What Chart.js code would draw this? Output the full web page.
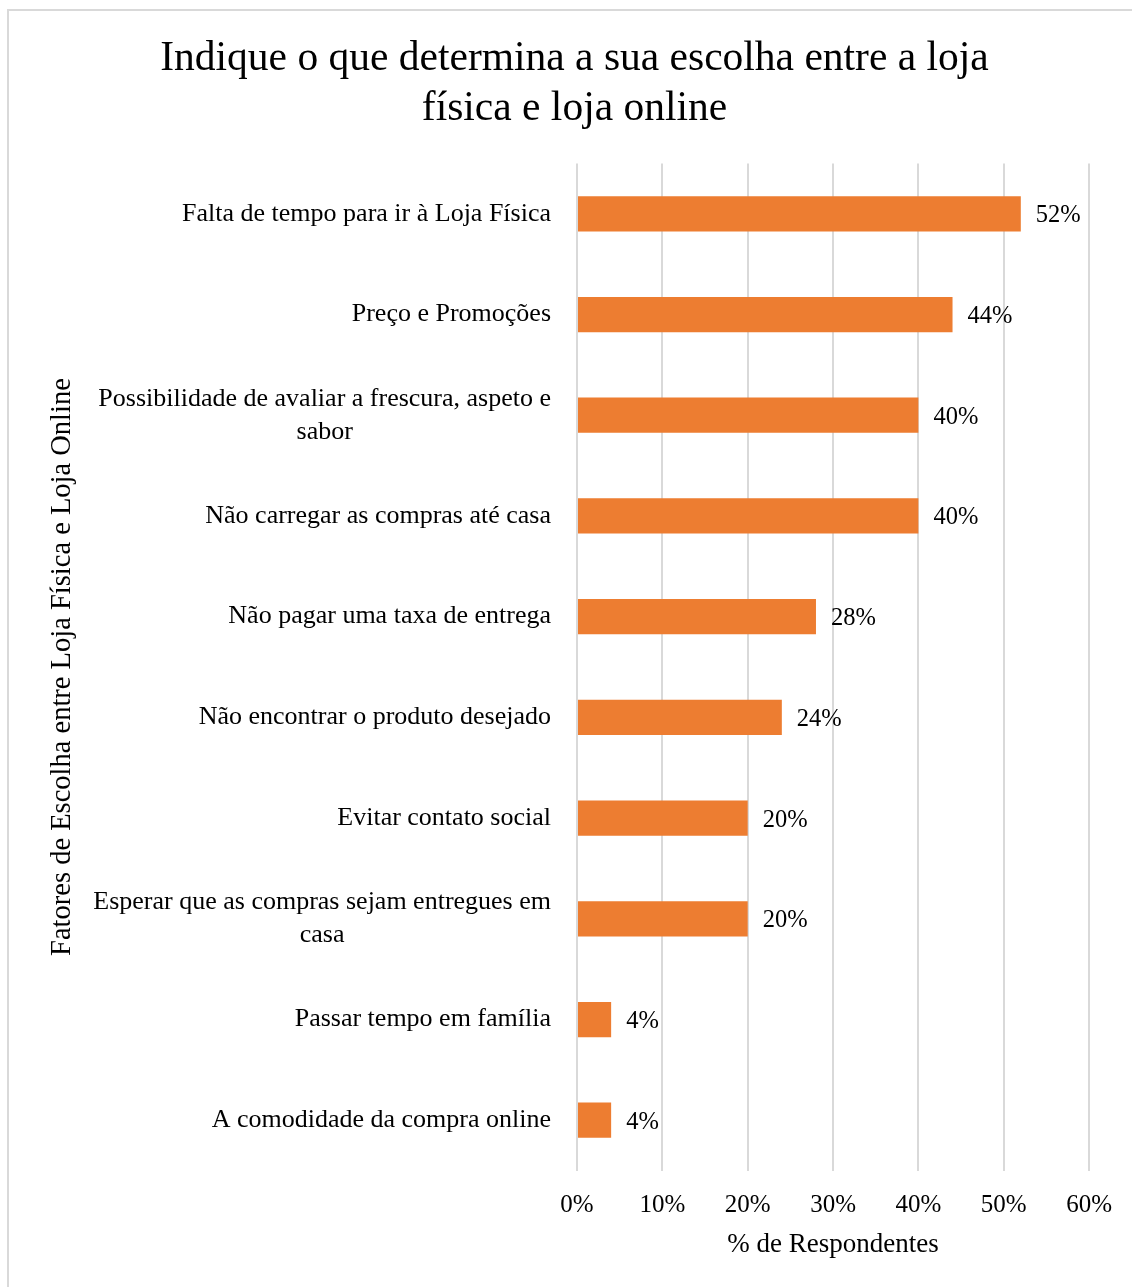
<!DOCTYPE html>
<html>
<head>
<meta charset="utf-8">
<title>Escolha entre loja física e loja online</title>
<script src="https://cdn.jsdelivr.net/npm/chart.js@4/dist/chart.umd.min.js"></script>
<style>
body{
    margin:0;
    background:#ffffff;
    overflow:hidden;
}
#frame{
    position:absolute;
    left:7px;
    top:9px;
    width:1300px;
    height:1400px;
    border:2px solid #d9d9d9;
}
#wrap{
    position:absolute;
    left:0;
    top:0;
    width:1132px;
    height:1287px;
}
</style>
</head>
<body>

<div id="frame"></div>

<div id="wrap">
<canvas id="choiceChart"></canvas>
</div>

<script>

let factors = [
    ["Falta de tempo para ir à Loja Física"],
    ["Preço e Promoções"],
    ["Possibilidade de avaliar a frescura, aspeto e", "sabor"],
    ["Não carregar as compras até casa"],
    ["Não pagar uma taxa de entrega"],
    ["Não encontrar o produto desejado"],
    ["Evitar contato social"],
    ["Esperar que as compras sejam entregues em", "casa"],
    ["Passar tempo em família"],
    ["A comodidade da compra online"]
];

let respondents = [52, 44, 40, 40, 28, 24, 20, 20, 4, 4];

let xTicks = [0, 10, 20, 30, 40, 50, 60];

let chartTitle = [
    "Indique o que determina a sua escolha entre a loja",
    "física e loja online"
];

let xTitle = "% de Respondentes";

let yTitle = "Fatores de Escolha entre Loja Física e Loja Online";

let serif = "'Liberation Serif', 'DejaVu Serif', serif";

// category labels, right block with centered lines (like the original)
const factorLabels = {
    id: "factorLabels",
    afterDraw(chart){
        let ctx = chart.ctx;
        let yScale = chart.scales.y;
        let rightEdge = chart.chartArea.left - 26;
        let lineGap = 33;

        ctx.save();
        ctx.font = "26px " + serif;
        ctx.fillStyle = "#000000";
        ctx.textBaseline = "middle";
        ctx.textAlign = "center";

        factors.forEach((lines, i) => {
            let centerY = yScale.getPixelForTick(i);
            let widest = 0;
            lines.forEach(l => {
                widest = Math.max(widest, ctx.measureText(l).width);
            });
            let centerX = rightEdge - widest / 2;
            let startY = centerY - (lines.length - 1) * lineGap / 2;
            lines.forEach((l, k) => {
                ctx.fillText(l, centerX, startY + k * lineGap);
            });
        });

        ctx.restore();
    }
};

// value labels at the end of each bar
const valueLabels = {
    id: "valueLabels",
    afterDatasetsDraw(chart){
        let ctx = chart.ctx;
        let meta = chart.getDatasetMeta(0);

        ctx.save();
        ctx.font = "24.5px " + serif;
        ctx.fillStyle = "#000000";
        ctx.textBaseline = "middle";
        ctx.textAlign = "left";

        meta.data.forEach((bar, i) => {
            ctx.fillText(respondents[i] + "%", bar.x + 15, bar.y + 2);
        });

        ctx.restore();
    }
};

new Chart(
    document.getElementById("choiceChart"),
    {
        type: "bar",
        data: {
            labels: factors.map(f => f.join(" ")),
            datasets: [{
                data: respondents,
                backgroundColor: "#ED7D31",
                barPercentage: 0.35,
                categoryPercentage: 1
            }]
        },
        options: {
            indexAxis: "y",
            responsive: true,
            maintainAspectRatio: false,
            animation: false,
            layout: {
                padding: {left: 58, right: 41, top: 20, bottom: 26}
            },
            plugins: {
                legend: {display: false},
                tooltip: {enabled: false},
                title: {
                    display: true,
                    text: chartTitle,
                    color: "#000000",
                    font: {family: serif, size: 41.5, weight: "normal", lineHeight: 1.21},
                    padding: {top: 14, bottom: 29}
                }
            },
            scales: {
                x: {
                    min: 0,
                    max: 60,
                    afterBuildTicks(scale){
                        scale.ticks = xTicks.map(v => ({value: v}));
                    },
                    grid: {
                        color: "#d9d9d9",
                        lineWidth: 2,
                        drawTicks: false
                    },
                    border: {display: false},
                    ticks: {
                        color: "#000000",
                        padding: 20,
                        font: {family: serif, size: 25},
                        callback: v => v + "%"
                    },
                    title: {
                        display: true,
                        text: xTitle,
                        color: "#000000",
                        font: {family: serif, size: 27},
                        padding: {top: -12, bottom: 0}
                    }
                },
                y: {
                    grid: {display: false},
                    border: {display: false},
                    ticks: {display: false},
                    afterFit(scale){
                        scale.width = 519;
                    },
                    title: {
                        display: true,
                        text: yTitle,
                        color: "#000000",
                        font: {family: serif, size: 28.5},
                        padding: {top: -13, bottom: 0}
                    }
                }
            }
        },
        plugins: [factorLabels, valueLabels]
    }
);

</script>
</body>
</html>
